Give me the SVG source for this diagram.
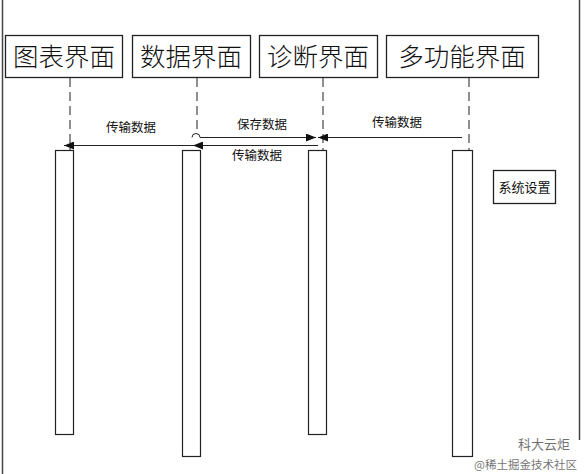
<svg xmlns="http://www.w3.org/2000/svg" width="588" height="474" viewBox="0 0 588 474">
<style>
.box{fill:#fff;stroke:#222;stroke-width:1.3}
.bar{fill:#fff;stroke:#222;stroke-width:1.2}
.life{stroke:#555;stroke-width:1.3;stroke-dasharray:9,5;fill:none}
.msg{stroke:#222;stroke-width:1;fill:none}
.t{font-family:"Noto Sans CJK SC","Liberation Sans",sans-serif;fill:#111}
.big{font-size:25.5px;font-weight:300}
.lbl{font-size:12.5px}
</style>
<defs>
<marker id="ah" markerWidth="10" markerHeight="8" refX="10" refY="4" orient="auto" markerUnits="userSpaceOnUse">
<path d="M0,0 L10,4 L0,8 Z" fill="#111"/>
</marker>
</defs>
<rect width="588" height="474" fill="#fff"/>
<line x1="2.5" y1="0" x2="2.5" y2="474" stroke="#444" stroke-width="1.5"/>
<line x1="579.5" y1="0" x2="579.5" y2="440" stroke="#444" stroke-width="1.5"/>

<g id="node-chart">
<rect class="box" x="5.5" y="35.5" width="117" height="42"/>
<text class="t big" x="64" y="66" text-anchor="middle">图表界面</text>
<line class="life" x1="70" y1="78" x2="70" y2="150"/>
<rect class="bar" x="55.5" y="150.5" width="18" height="284"/>
</g>
<g id="node-data">
<rect class="box" x="132.5" y="35.5" width="118" height="42"/>
<text class="t big" x="191" y="66" text-anchor="middle">数据界面</text>
<line class="life" x1="197" y1="78" x2="197" y2="133"/>
<rect class="bar" x="182.5" y="150.5" width="18" height="306"/>
</g>
<g id="node-diag">
<rect class="box" x="259.5" y="35.5" width="118" height="42"/>
<text class="t big" x="318" y="66" text-anchor="middle">诊断界面</text>
<line class="life" x1="323" y1="78" x2="323" y2="150"/>
<rect class="bar" x="308.5" y="150.5" width="18" height="284"/>
</g>
<g id="node-multi">
<rect class="box" x="386.5" y="35.5" width="152" height="42"/>
<text class="t big" x="462" y="66" text-anchor="middle">多功能界面</text>
<line class="life" x1="469" y1="78" x2="469" y2="150"/>
<rect class="bar" x="452.5" y="150.5" width="20" height="306"/>
</g>
<g id="node-settings">
<rect class="box" x="493.5" y="170.5" width="62" height="33"/>
<text class="t" font-size="13" x="524.5" y="192" text-anchor="middle">系统设置</text>
</g>

<g id="connectors">
<line class="msg" x1="197" y1="145.5" x2="64" y2="145.5" marker-end="url(#ah)"/>
<text class="t lbl" x="131" y="132" text-anchor="middle">传输数据</text>
<path class="msg" d="M192,137.5 a4,4 0 0 1 8,0 H316" marker-end="url(#ah)"/>
<text class="t lbl" x="262" y="129" text-anchor="middle">保存数据</text>
<line class="msg" x1="318" y1="145.5" x2="193" y2="145.5" marker-end="url(#ah)"/>
<text class="t lbl" x="257" y="160" text-anchor="middle">传输数据</text>
<line class="msg" x1="462" y1="137.5" x2="318" y2="137.5" marker-end="url(#ah)"/>
<text class="t lbl" x="397" y="127" text-anchor="middle">传输数据</text>
</g>

<g id="watermark" opacity="0.6">
<text class="t" font-size="13" x="518" y="449" fill="#333">科大云炬</text>
<text class="t" font-size="11.5" x="474" y="469" fill="#999">@稀土掘金技术社区</text>
</g>
</svg>
